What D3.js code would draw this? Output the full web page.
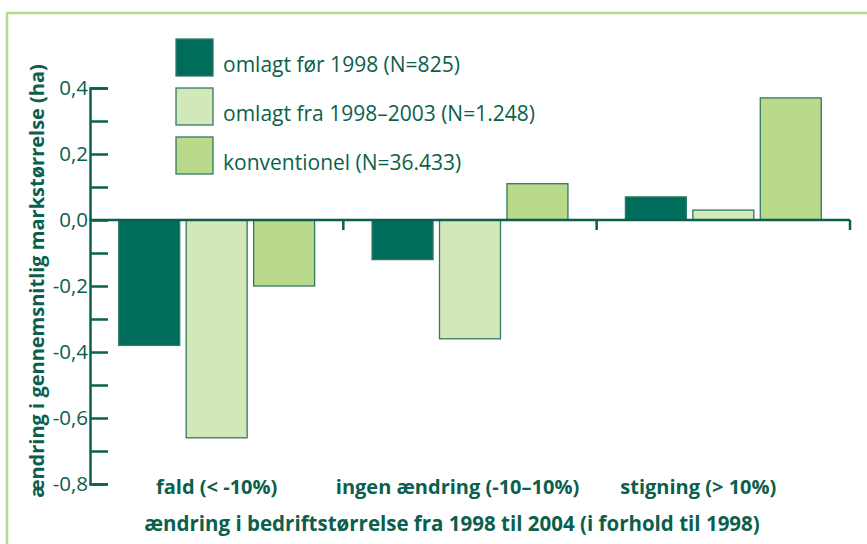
<!DOCTYPE html>
<html>
<head>
<meta charset="utf-8">
<script src="https://cdn.jsdelivr.net/npm/d3@7"></script>
<style>
  html, body { margin: 0; padding: 0; background: #fff; }
  svg { display: block; }
  text { font-family: "Open Sans", "Noto Sans", sans-serif; fill: #0b5f4c; }
</style>
</head>
<body>
<div id="chart"></div>
<script>
// categories on the x axis
const categories = [ 'fald (< -10%)', 'ingen ændring (-10–10%)', 'stigning (> 10%)' ];

// the three series, one value per category (ha)
const seriesNames = [ 'omlagt før 1998 (N=825)', 'omlagt fra 1998–2003 (N=1.248)', 'konventionel (N=36.433)' ];
const omlagtFoer1998 = [ -0.38, -0.12, 0.07 ];
const omlagt19982003 = [ -0.66, -0.36, 0.03 ];
const konventionel = [ -0.20, 0.11, 0.37 ];

const yTicks = [ 0.4, 0.3, 0.2, 0.1, 0.0, -0.1, -0.2, -0.3, -0.4, -0.5, -0.6, -0.7, -0.8 ];
const yLabelTicks = [ 0.4, 0.2, 0.0, -0.2, -0.4, -0.6, -0.8 ];

const yTitle = 'ændring i gennemsnitlig markstørrelse (ha)';
const xTitle = 'ændring i bedriftstørrelse fra 1998 til 2004 (i forhold til 1998)';

const colors = [ '#006c5b', '#d3e8b8', '#b9d98b' ];
const strokeCol = '#2f7a62';
const inkCol = '#0b5f4c';

const width = 867;
const height = 544;

const seriesValues = [ omlagtFoer1998, omlagt19982003, konventionel ];
const rows = [];
categories.forEach( ( c, ci ) => {
	seriesNames.forEach( ( s, si ) => {
		rows.push( { category: c, series: si, value: seriesValues[ si ][ ci ] } );
	} );
} );

const svg = d3.select( '#chart' )
	.append( 'svg' )
	.attr( 'width', width )
	.attr( 'height', height );

// light green frame
svg.append( 'rect' )
	.attr( 'x', 7 )
	.attr( 'y', 13 )
	.attr( 'width', width + 20 )
	.attr( 'height', height + 20 )
	.attr( 'fill', 'none' )
	.attr( 'stroke', '#b9d98b' )
	.attr( 'stroke-width', 2.5 );

const x = d3.scaleBand()
	.domain( categories )
	.range( [ 90, 850 ] )
	.padding( 0 );

const xs = d3.scaleBand()
	.domain( d3.range( seriesNames.length ) )
	.range( [ 0, x.bandwidth() ] )
	.paddingInner( 0.096 )
	.paddingOuter( 0.426 );

const y = d3.scaleLinear()
	.domain( [ -0.8, 0.4 ] )
	.range( [ 484, 88 ] );

// bars
svg.append( 'g' )
	.selectAll( 'rect' )
	.data( rows )
	.join( 'rect' )
	.attr( 'x', ( d ) => x( d.category ) + xs( d.series ) )
	.attr( 'width', xs.bandwidth() )
	.attr( 'y', ( d ) => y( Math.max( 0, d.value ) ) )
	.attr( 'height', ( d ) => Math.abs( y( d.value ) - y( 0 ) ) )
	.attr( 'fill', ( d ) => colors[ d.series ] )
	.attr( 'stroke', strokeCol )
	.attr( 'stroke-width', 1.3 );

// y axis
const fmt = ( v ) => d3.format( '.1f' )( v ).replace( '.', ',' ).replace( '−', '-' );
const yAxis = d3.axisLeft( y )
	.tickValues( yTicks )
	.tickSize( -18 )
	.tickPadding( 2 )
	.tickFormat( ( v ) => yLabelTicks.some( ( t ) => Math.abs( t - v ) < 1e-9 ) ? fmt( v ) : '' );

const gy = svg.append( 'g' )
	.attr( 'transform', 'translate(90,0)' )
	.call( yAxis );

gy.select( '.domain' ).attr( 'stroke', inkCol ).attr( 'stroke-width', 2.5 );
gy.selectAll( '.tick line' ).attr( 'stroke', inkCol ).attr( 'stroke-width', 2.5 );
gy.selectAll( '.tick text' )
	.attr( 'fill', inkCol )
	.style( 'font-size', '20.5px' )
	.style( 'font-family', '"Open Sans", sans-serif' );

// x axis: zero line with ticks at band ends
const gx = svg.append( 'g' );
gx.append( 'line' )
	.attr( 'x1', x.range()[ 0 ] )
	.attr( 'x2', x.range()[ 1 ] )
	.attr( 'y1', y( 0 ) )
	.attr( 'y2', y( 0 ) )
	.attr( 'stroke', inkCol )
	.attr( 'stroke-width', 2.5 );

gx.selectAll( '.xt' )
	.data( categories )
	.join( 'line' )
	.attr( 'class', 'xt' )
	.attr( 'x1', ( d ) => x( d ) + x.bandwidth() )
	.attr( 'x2', ( d ) => x( d ) + x.bandwidth() )
	.attr( 'y1', y( 0 ) )
	.attr( 'y2', y( 0 ) + 10 )
	.attr( 'stroke', inkCol )
	.attr( 'stroke-width', 2.5 );

// category labels (nudged left a little, like the original layout)
svg.append( 'g' )
	.selectAll( 'text' )
	.data( categories )
	.join( 'text' )
	.attr( 'x', ( d ) => x( d ) + x.bandwidth() / 2 )
	.attr( 'dx', ( d, i ) => -12.5 * i )
	.attr( 'y', 494 )
	.attr( 'text-anchor', 'middle' )
	.style( 'font-size', '20px' )
	.style( 'font-weight', '700' )
	.text( ( d ) => d );

// axis titles
svg.append( 'text' )
	.attr( 'x', 452 )
	.attr( 'y', 531 )
	.attr( 'text-anchor', 'middle' )
	.style( 'font-size', '20.5px' )
	.style( 'font-weight', '700' )
	.text( xTitle );

svg.append( 'text' )
	.attr( 'transform', 'translate(44,281) rotate(-90)' )
	.attr( 'text-anchor', 'middle' )
	.style( 'font-size', '20px' )
	.style( 'font-weight', '700' )
	.text( yTitle );

// legend
const legend = svg.append( 'g' )
	.selectAll( 'g' )
	.data( seriesNames )
	.join( 'g' )
	.attr( 'transform', ( d, i ) => `translate(176,${ 39 + i * 49 })` );

legend.append( 'rect' )
	.attr( 'width', 37 )
	.attr( 'height', 37 )
	.attr( 'fill', ( d, i ) => colors[ i ] )
	.attr( 'stroke', strokeCol )
	.attr( 'stroke-width', 1.3 );

legend.append( 'text' )
	.attr( 'x', 47 )
	.attr( 'y', 33 )
	.style( 'font-size', '21px' )
	.text( ( d ) => d );
</script>
</body>
</html>
